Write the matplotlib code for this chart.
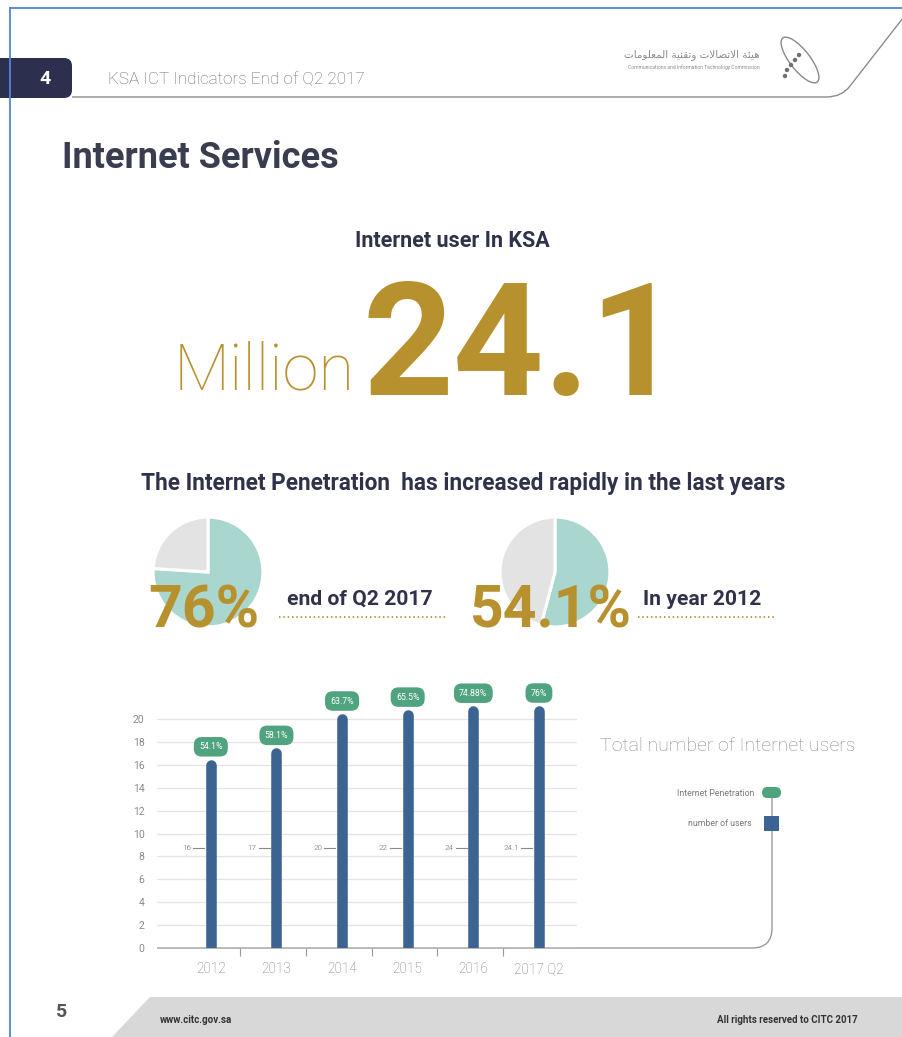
import numpy as np
import matplotlib
matplotlib.use("Agg")
import matplotlib.pyplot as plt
from matplotlib.patches import FancyBboxPatch, Polygon, Rectangle, PathPatch, Ellipse, Circle
from matplotlib.path import Path

# ---------------------------------------------------------------- data
years = ["2012", "2013", "2014", "2015", "2016", "2017 Q2"]
users_millions = [16, 17, 20, 22, 24, 24.1]
penetration_labels = ["54.1%", "58.1%", "63.7%", "65.5%", "74.88%", "76%"]
y_ticks = [0, 2, 4, 6, 8, 10, 12, 14, 16, 18, 20]

headline_users = 24.1
pie_shares = [76, 54.1]
pie_captions = ["end of Q2 2017", "In year 2012"]

# ---------------------------------------------------------------- style
W, H, DPI = 903, 1037, 100
GOLD = "#b8912f"
DARK = "#30324a"
NAVY = "#2d2f4e"
BLUE = "#3c6493"
GREEN = "#4fa37f"
TEAL = "#a9d6cf"
PIE_GRAY = "#e3e3e3"
AXIS_GRAY = "#9a9a9a"
BODY = ["Roboto", "DejaVu Sans"]

plt.rcParams["font.family"] = BODY

fig = plt.figure(figsize=(W / DPI, H / DPI), dpi=DPI)
fig.patch.set_facecolor("white")


def px_axes(zorder):
    a = fig.add_axes([0, 0, 1, 1], zorder=zorder)
    a.set_xlim(0, W)
    a.set_ylim(H, 0)
    a.axis("off")
    a.patch.set_alpha(0)
    return a


bg = px_axes(0)
fg = px_axes(5)

# ---------------------------------------------------------------- page frame
bg.plot([10, 10], [8, H], color="#4f86d9", lw=1.3)
bg.plot([10, W], [8, 8], color="#4f86d9", lw=1.3)

# ---------------------------------------------------------------- header
bg.add_patch(FancyBboxPatch((-20, 58), 92, 40, boxstyle="round,pad=0,rounding_size=8",
                            fc=NAVY, ec="none"))
fg.text(45, 79, "4", color="white", fontsize=14, fontweight="bold", ha="center", va="center")
fg.text(108, 84, "KSA ICT Indicators End of Q2 2017", color="#6a6a6a", fontsize=12.3,
        fontweight="light", ha="left", va="baseline")

header = Path([(72, 97), (826, 97), (842, 97), (850, 86), (903, 18)],
              [Path.MOVETO, Path.LINETO, Path.CURVE3, Path.CURVE3, Path.LINETO])
bg.add_patch(PathPatch(header, fc="none", ec="#8c8c8c", lw=1.0))

# Arabic presentation forms: isolated, final, initial, medial
AR_FORMS = {
    "ا": ("\uFE8D", "\uFE8E", None, None),
    "ة": ("\uFE93", "\uFE94", None, None),
    "و": ("\uFEED", "\uFEEE", None, None),
    "ت": ("\uFE95", "\uFE96", "\uFE97", "\uFE98"),
    "ص": ("\uFEB9", "\uFEBA", "\uFEBB", "\uFEBC"),
    "ع": ("\uFEC9", "\uFECA", "\uFECB", "\uFECC"),
    "ق": ("\uFED5", "\uFED6", "\uFED7", "\uFED8"),
    "ل": ("\uFEDD", "\uFEDE", "\uFEDF", "\uFEE0"),
    "م": ("\uFEE1", "\uFEE2", "\uFEE3", "\uFEE4"),
    "ن": ("\uFEE5", "\uFEE6", "\uFEE7", "\uFEE8"),
    "ه": ("\uFEE9", "\uFEEA", "\uFEEB", "\uFEEC"),
    "ي": ("\uFEF1", "\uFEF2", "\uFEF3", "\uFEF4"),
    "ئ": ("\uFE89", "\uFE8A", "\uFE8B", "\uFE8C"),
}


def shape_arabic(text):
    out = []
    for word in text.split(" "):
        glyphs, i = [], 0
        while i < len(word):
            ch = word[i]
            prev = word[i - 1] if i > 0 else None
            joins_prev = prev is not None and prev in AR_FORMS and AR_FORMS[prev][2] is not None
            if ch == "ل" and i + 1 < len(word) and word[i + 1] == "ا":
                glyphs.append("\uFEFC" if joins_prev else "\uFEFB")
                i += 2
                continue
            forms = AR_FORMS[ch]
            nxt = word[i + 1] if i + 1 < len(word) else None
            joins_next = nxt is not None and forms[2] is not None
            if joins_prev and joins_next:
                g = forms[3]
            elif joins_prev:
                g = forms[1]
            elif joins_next:
                g = forms[2]
            else:
                g = forms[0]
            glyphs.append(g)
            i += 1
        out.append("".join(glyphs))
    return " ".join(out)[::-1]


fg.text(760, 57, shape_arabic("هيئة الاتصالات وتقنية المعلومات"), family=["DejaVu Sans"],
        fontsize=7.5, color="#8a8a8a", ha="right", va="baseline")
fg.text(760, 69, "Communications and Information Technology Commission", fontsize=3.6,
        color="#8a8a8a", ha="right", va="baseline")
bg.add_patch(Ellipse((800, 60), 20, 56, angle=-38, fc="none", ec="#8a8a8a", lw=1.0))
for dx, dy in [(-8, 8), (-4, 3), (0, -2), (4, -7), (-10, 14)]:
    bg.add_patch(Circle((795 + dx, 62 + dy), 2.2, fc="#6f6f6f", ec="none"))

fg.text(62, 168, "Internet Services", color="#3a3c50", fontsize=26, fontweight="bold",
        ha="left", va="baseline")

# ---------------------------------------------------------------- headline
fg.text(452, 247, "Internet user In KSA", color=DARK, fontsize=15.5, fontweight="bold",
        ha="center", va="baseline")
fg.text(174, 390, "Million", color=GOLD, fontsize=47, fontweight="light", ha="left",
        va="baseline")
fg.text(363, 395, f"{headline_users:g}", color=GOLD, fontsize=114, fontweight="bold",
        ha="left", va="baseline")

fg.text(463, 490, "The Internet Penetration  has increased rapidly in the last years",
        color=DARK, fontsize=16.3, fontweight="bold", ha="center", va="baseline")

# ---------------------------------------------------------------- penetration pies
pie_centers = [(208, 572), (555, 572)]
pct_left = [148, 470]
caption_left = [287, 643]
dot_spans = [(279, 447), (638, 774)]
R = 56
for share, (cx, cy), pl, cl, (d0, d1), cap in zip(pie_shares, pie_centers, pct_left,
                                                   caption_left, dot_spans, pie_captions):
    pax = fig.add_axes([(cx - R) / W, (H - cy - R) / H, 2 * R / W, 2 * R / H], zorder=1)
    pax.pie([share, 100 - share], startangle=90, counterclock=False,
            colors=[TEAL, PIE_GRAY], wedgeprops=dict(edgecolor="white", linewidth=2.2))
    pax.set_xlim(-1.02, 1.02)
    pax.set_ylim(-1.02, 1.02)
    pax.set_aspect("equal")
    fg.text(pl, 628, f"{share:g}%", color=GOLD, fontsize=42.5, fontweight="bold",
            ha="left", va="baseline")
    fg.text(cl, 605, cap, color=DARK, fontsize=15.2, fontweight="bold", ha="left",
            va="baseline")
    fg.plot([d0, d1], [617, 617], color=GOLD, lw=1.3, linestyle=(0, (0.8, 1.6)))

# ---------------------------------------------------------------- bar chart
K = 0.17  # compression of values above the top gridline


def fwd(y):
    y = np.asarray(y, dtype=float)
    return np.where(y <= 20, y, 20 + (y - 20) * K)


def inv(v):
    v = np.asarray(v, dtype=float)
    return np.where(v <= 20, v, 20 + (v - 20) / K)


x_lo, x_hi = -0.82, 5.58
y_top = 27
ax_left, ax_right, ax_base = 157, 577, 948
px_per_unit = 11.45
ax_h = float(fwd(y_top)) * px_per_unit
ax = fig.add_axes([ax_left / W, (H - ax_base) / H, (ax_right - ax_left) / W, ax_h / H],
                  zorder=2)
ax.patch.set_alpha(0)
ax.set_yscale("function", functions=(fwd, inv))
ax.set_xlim(x_lo, x_hi)
ax.set_ylim(0, y_top)

xs = np.arange(len(years))
bars = ax.vlines(xs, 0, users_millions, colors=BLUE, linewidth=7.6, zorder=3)
bars.set_capstyle("round")

for x, v, lab in zip(xs, users_millions, penetration_labels):
    ax.annotate(lab, xy=(x, v), xytext=(0, 18), textcoords="offset pixels",
                ha="center", va="center", fontsize=6.3, color="white", zorder=4,
                bbox=dict(boxstyle="round,pad=0.6,rounding_size=0.9", fc=GREEN, ec="none"))
    ax.text(x - 0.30, 8.7, f"{v:g}", ha="right", va="center", fontsize=5.8,
            color="#9a9a9a", zorder=4)
    ax.plot([x - 0.27, x - 0.1], [8.7, 8.7], color="#8a8a8a", lw=0.8, zorder=2)

ax.set_yticks(y_ticks)
ax.set_yticklabels([str(t) for t in y_ticks])
ax.yaxis.grid(True, color="#e4e4e4", lw=0.9, zorder=0)
ax.set_axisbelow(True)
ax.tick_params(axis="y", length=0, pad=9, labelsize=7.5, labelcolor="#8a8a8a")
ax.set_xticks(xs)
ax.set_xticklabels(years)
ax.tick_params(axis="x", which="major", length=0, pad=10, labelsize=9.8,
               labelcolor="#777777")
for t in ax.get_xticklabels():
    t.set_fontweight("light")
ax.set_xticks(xs[:-1] + 0.45, minor=True)
ax.tick_params(axis="x", which="minor", length=6, width=0.8, color=AXIS_GRAY,
               direction="out")
for s in ax.spines.values():
    s.set_visible(False)

# baseline that turns up into the legend bracket
bracket = Path([(ax_left, 948), (752, 948), (772, 948), (772, 928), (772, 793)],
               [Path.MOVETO, Path.LINETO, Path.CURVE3, Path.CURVE3, Path.LINETO])
bg.add_patch(PathPatch(bracket, fc="none", ec=AXIS_GRAY, lw=1.0))

fg.text(600, 751, "Total number of Internet users", color="#8c8c8c", fontsize=14,
        fontweight="light", ha="left", va="baseline")
fg.add_patch(FancyBboxPatch((762, 787), 19, 11, boxstyle="round,pad=0,rounding_size=5.5",
                            fc=GREEN, ec="none"))
fg.text(754, 793, "Internet Penetration", color="#7a7a7a", fontsize=6.3, ha="right",
        va="center")
fg.add_patch(Rectangle((764, 816), 15, 15, fc=BLUE, ec="none"))
fg.text(752, 823, "number of users", color="#7a7a7a", fontsize=6.3, ha="right", va="center")

# ---------------------------------------------------------------- footer
fg.text(62, 1012, "5", color="#555555", fontsize=14, fontweight="bold", ha="center",
        va="center")
bg.add_patch(Polygon([(150, 997), (W, 997), (W, H), (112, H)], closed=True,
                     fc="#d8d8d8", ec="none"))
fg.text(160, 1020, "www.citc.gov.sa", color="#333333", fontsize=7, fontweight="bold",
        ha="left", va="center")
fg.text(858, 1020, "All rights reserved to CITC 2017", color="#333333", fontsize=7,
        fontweight="bold", ha="right", va="center")

fig.savefig("out.png", dpi=DPI)
